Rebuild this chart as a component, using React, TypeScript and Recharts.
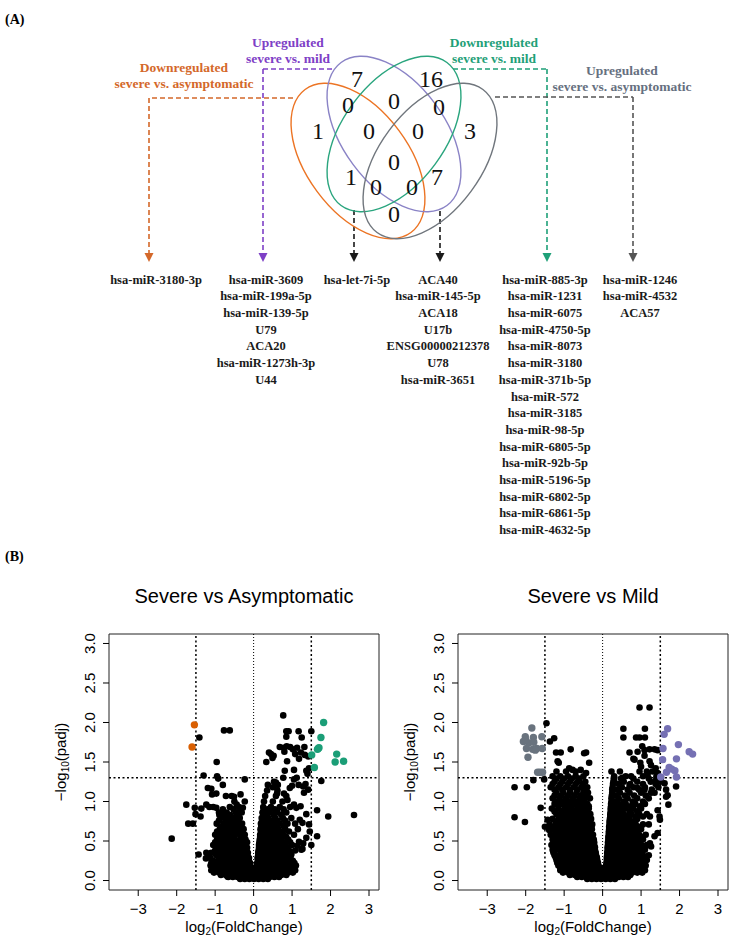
import React from 'react';
import { ScatterChart, Scatter, XAxis, YAxis, ReferenceLine, ReferenceArea } from 'recharts';

const SERIF = '"Liberation Serif", "Times New Roman", serif';
const SANS = '"Liberation Sans", Arial, Helvetica, sans-serif';

// ---------------- Venn data ----------------
const setTitles: string[][] = [
  ['Downregulated', 'severe vs. asymptomatic'],
  ['Upregulated', 'severe vs. mild'],
  ['Downregulated', 'severe vs. mild'],
  ['Upregulated', 'severe vs. asymptomatic'],
];
// region counts (purple only, green only, O∩P, P∩G, G∩Gy, orange only, O∩P∩G, P∩G∩Gy, gray only, all, O∩G, P∩Gy, O∩G∩Gy, O∩P∩Gy, O∩Gy)
const regionCounts = [7, 16, 0, 0, 0, 1, 0, 0, 3, 0, 1, 7, 0, 0, 0];

const genesDownAsym = ['hsa-miR-3180-3p'];
const genesUpMild = ['hsa-miR-3609', 'hsa-miR-199a-5p', 'hsa-miR-139-5p', 'U79', 'ACA20', 'hsa-miR-1273h-3p', 'U44'];
const genesDownAsymMild = ['hsa-let-7i-5p'];
const genesUpMildAsym = ['ACA40', 'hsa-miR-145-5p', 'ACA18', 'U17b', 'ENSG00000212378', 'U78', 'hsa-miR-3651'];
const genesDownMild = ['hsa-miR-885-3p', 'hsa-miR-1231', 'hsa-miR-6075', 'hsa-miR-4750-5p', 'hsa-miR-8073', 'hsa-miR-3180', 'hsa-miR-371b-5p', 'hsa-miR-572', 'hsa-miR-3185', 'hsa-miR-98-5p', 'hsa-miR-6805-5p', 'hsa-miR-92b-5p', 'hsa-miR-5196-5p', 'hsa-miR-6802-5p', 'hsa-miR-6861-5p', 'hsa-miR-4632-5p'];
const genesUpAsym = ['hsa-miR-1246', 'hsa-miR-4532', 'ACA57'];

// ---------------- Volcano data: Severe vs Asymptomatic ----------------
const asymDown: [number, number][] = [[-1.54, 1.97], [-1.60, 1.69]];
const asymUp: [number, number][] = [
  [1.82, 2.0], [1.75, 1.81], [1.70, 1.68], [1.66, 1.66], [1.51, 1.59], [2.16, 1.60],
  [2.12, 1.50], [2.34, 1.51], [1.58, 1.43], [1.68, 1.67],
];
const asymScatter: [number, number][] = [
  [0.77, 2.09], [-0.77, 1.90], [-0.62, 1.90], [-1.41, 1.81],
  [0.85, 1.89], [0.91, 1.89], [1.17, 1.89], [1.50, 1.89], [0.85, 1.82], [1.25, 1.81],
  [0.68, 1.69], [0.78, 1.68], [0.86, 1.70], [0.95, 1.69], [1.02, 1.66], [0.80, 1.63],
  [0.40, 1.62], [0.52, 1.58], [0.33, 1.50], [0.49, 1.55], [0.45, 1.60],
  [0.87, 1.51], [1.08, 1.60], [1.18, 1.54], [1.33, 1.59], [1.32, 1.69], [1.42, 1.57], [1.23, 1.62], [1.13, 1.68],
  [0.81, 1.39], [1.05, 1.40], [1.37, 1.39], [1.44, 1.42], [1.40, 1.35],
  [0.77, 1.30], [0.63, 1.21], [0.50, 1.18], [0.37, 1.21], [0.58, 1.24],
  [0.94, 1.17], [1.00, 1.20], [1.17, 1.21], [1.29, 1.19], [1.35, 1.22], [1.42, 1.15], [1.31, 1.11], [1.12, 1.30], [1.05, 1.28],
  [1.76, 1.26],
  [-0.96, 1.50], [-1.30, 1.33], [-0.95, 1.32], [-0.92, 1.29], [-0.23, 1.28], [-0.80, 1.21], [-1.19, 1.17], [-1.08, 1.09],
  [-1.75, 0.96], [-2.13, 0.53], [-1.70, 0.72], [-1.58, 0.72], [-1.53, 0.92], [-1.51, 0.84],
  [-1.36, 0.91], [-1.23, 0.96], [-1.15, 0.93], [-1.38, 0.81],
  [-0.57, 1.07], [-0.34, 1.09], [-0.23, 1.00], [-0.44, 0.96], [-0.28, 0.92], [-0.51, 1.06], [-0.97, 1.10], [-1.10, 1.16],
  [-0.97, 0.92], [-0.89, 0.83], [-0.80, 0.81],
  [-1.43, 0.33], [-1.23, 0.35], [-1.24, 0.28],
  [1.65, 0.89], [1.94, 0.81], [2.61, 0.83], [1.37, 0.84], [1.44, 0.71], [1.46, 0.62], [1.65, 0.56], [1.37, 0.54], [1.50, 0.45],
  [1.05, 0.96], [1.11, 0.92], [1.20, 0.77], [1.18, 0.49], [1.29, 0.47], [1.24, 0.39], [0.98, 0.33],
  [0.53, 1.25], [0.61, 1.10], [0.79, 1.10], [0.88, 1.02], [1.22, 0.94], [1.27, 0.73], [1.14, 0.44], [1.27, 0.40],
  [-0.68, 0.05],
];
const asymCoreRows: [number, number[]][] = [
  [0.02, [-0.35, -0.23, -0.11, 0.01, 0.13, 0.25, 0.37]],
  [0.045, [-0.66, -0.54, -0.42, -0.30, -0.18, -0.06, 0.06, 0.18, 0.30, 0.42, 0.54, 0.66]],
  [0.07, [-0.85, -0.72, -0.6, -0.48, -0.36, -0.24, -0.12, 0.0, 0.12, 0.24, 0.36, 0.48, 0.6, 0.72, 0.85]],
  [0.10, [-1.03, -0.9, -0.77, -0.64, -0.51, -0.38, -0.25, -0.13, -0.02, 0.02, 0.13, 0.25, 0.38, 0.51, 0.64, 0.77, 0.9, 1.02]],
  [0.13, [-1.1, -0.97, -0.84, -0.71, -0.58, -0.45, -0.32, -0.19, -0.07, 0.07, 0.19, 0.32, 0.45, 0.58, 0.71, 0.84, 0.97, 1.08]],
  [0.16, [-1.05, -0.92, -0.79, -0.66, -0.53, -0.4, -0.27, -0.14, -0.05, 0.05, 0.14, 0.27, 0.4, 0.53, 0.66, 0.79, 0.92, 1.04]],
  [0.19, [-1.12, -0.99, -0.86, -0.73, -0.6, -0.47, -0.34, -0.21, -0.09, 0.09, 0.21, 0.34, 0.47, 0.6, 0.73, 0.86, 0.99, 1.1]],
  [0.22, [-1.1, -0.97, -0.84, -0.71, -0.58, -0.45, -0.32, -0.19, -0.09, 0.09, 0.18, 0.3, 0.43, 0.56, 0.69, 0.82, 0.95, 1.06]],
  [0.25, [-1.05, -0.92, -0.79, -0.66, -0.53, -0.4, -0.27, -0.13, 0.11, 0.24, 0.37, 0.5, 0.63, 0.76, 0.89, 1.02]],
  [0.285, [-1.12, -0.9, -0.77, -0.64, -0.51, -0.38, -0.24, -0.12, 0.1, 0.18, 0.31, 0.44, 0.57, 0.7, 0.83, 0.96]],
  [0.32, [-1.18, -0.97, -0.84, -0.71, -0.58, -0.45, -0.32, -0.16, 0.12, 0.25, 0.38, 0.51, 0.64, 0.77, 0.9]],
  [0.35, [-1.1, -0.92, -0.78, -0.65, -0.52, -0.39, -0.25, -0.15, 0.12, 0.2, 0.32, 0.45, 0.58, 0.71, 0.84]],
  [0.38, [-1.0, -0.87, -0.74, -0.61, -0.48, -0.35, -0.19, 0.13, 0.26, 0.39, 0.52, 0.65, 0.78, 0.92, 1.08]],
  [0.415, [-0.95, -0.8, -0.67, -0.54, -0.4, -0.26, -0.17, 0.14, 0.22, 0.35, 0.48, 0.6, 0.73, 0.88]],
  [0.45, [-1.05, -0.9, -0.76, -0.6, -0.45, -0.32, -0.2, 0.14, 0.28, 0.41, 0.54, 0.67, 0.82, 1.0]],
  [0.485, [-1.0, -0.84, -0.68, -0.52, -0.38, -0.25, -0.17, 0.15, 0.24, 0.37, 0.5, 0.63, 0.78, 0.95]],
  [0.52, [-0.95, -0.8, -0.63, -0.48, -0.34, -0.21, 0.16, 0.3, 0.43, 0.57, 0.72, 0.9]],
  [0.55, [-0.9, -0.72, -0.55, -0.28, 0.17, 0.25, 0.38, 0.52, 0.68, 0.85]],
  [0.58, [-1.0, -0.82, -0.66, -0.5, -0.36, -0.23, 0.17, 0.31, 0.45, 0.6, 0.78, 1.05]],
  [0.62, [-0.95, -0.78, -0.6, -0.45, -0.3, 0.19, 0.27, 0.4, 0.56, 0.72, 0.92]],
  [0.65, [-0.88, -0.72, -0.56, -0.41, -0.26, 0.18, 0.33, 0.48, 0.64, 0.82, 1.15]],
  [0.69, [-0.82, -0.65, -0.5, -0.35, 0.2, 0.28, 0.44, 0.6, 0.78]],
  [0.72, [-0.96, -0.77, -0.6, -0.44, -0.3, 0.19, 0.35, 0.51, 0.68, 0.88, 1.08]],
  [0.76, [-0.9, -0.72, -0.55, -0.4, 0.22, 0.3, 0.46, 0.62, 0.82]],
  [0.79, [-0.85, -0.66, -0.5, -0.36, 0.21, 0.38, 0.56, 0.76, 0.98]],
  [0.83, [-0.78, -0.6, -0.4, 0.25, 0.33, 0.52, 0.72]],
  [0.86, [-0.9, -0.7, -0.46, -0.31, 0.23, 0.42, 0.62, 0.85]],
  [0.9, [-0.8, -0.52, -0.34, 0.26, 0.36, 0.55, 0.78]],
  [0.93, [-1.05, -0.62, -0.38, 0.25, 0.45, 0.68, 0.95]],
  [1.0, [-0.5, 0.27, 0.5, 0.75]],
  [1.07, [-0.72, 0.3, 0.58, 0.85]],
  [1.14, [0.35, 0.62]],
];

// ---------------- Volcano data: Severe vs Mild ----------------
const mildDown: [number, number][] = [
  [-1.84, 1.93], [-2.01, 1.82], [-1.80, 1.81], [-1.58, 1.82], [-2.06, 1.76], [-1.92, 1.74],
  [-1.79, 1.75], [-1.98, 1.67], [-1.82, 1.66], [-1.71, 1.67], [-1.57, 1.67], [-1.94, 1.56],
  [-1.69, 1.37], [-1.63, 1.37], [-1.56, 1.37], [-2.0, 1.78], [-1.75, 1.65],
];
const mildUp: [number, number][] = [
  [1.69, 1.92], [1.60, 1.85], [1.97, 1.72], [1.57, 1.67], [2.25, 1.63], [2.34, 1.60],
  [1.56, 1.53], [1.92, 1.54], [1.73, 1.43], [1.66, 1.37], [1.80, 1.41], [1.88, 1.39],
  [1.92, 1.31], [1.51, 1.31],
];
const mildScatter: [number, number][] = [
  [0.96, 2.19], [1.22, 2.19], [-1.46, 1.99], [-1.26, 1.80], [-1.37, 1.76],
  [-0.83, 1.66], [-1.09, 1.62], [-0.43, 1.62], [-1.21, 1.62], [-1.14, 1.49],
  [0.54, 1.92], [1.10, 1.92], [0.54, 1.81], [0.87, 1.81], [0.96, 1.81], [1.10, 1.81],
  [0.70, 1.62], [0.91, 1.63], [1.09, 1.65], [1.22, 1.66], [1.35, 1.66], [1.43, 1.65], [1.03, 1.70],
  [1.09, 1.58], [0.80, 1.54], [0.98, 1.49], [1.22, 1.51], [1.26, 1.46], [1.38, 1.42], [1.43, 1.36],
  [-2.29, 1.18], [-1.97, 1.18], [-2.29, 0.80], [-2.02, 0.74], [-1.80, 1.27], [-1.52, 1.28], [-1.61, 0.92],
  [-1.17, 1.51], [-0.87, 1.42], [-0.78, 1.40], [-0.48, 1.61], [-0.35, 1.49], [-0.57, 1.40], [-0.43, 1.36],
  [0.83, 1.53], [1.0, 1.44], [0.96, 1.38], [1.17, 1.34], [1.30, 1.38], [1.39, 1.27], [1.52, 1.30],
  [1.61, 1.23], [1.65, 1.15], [1.65, 1.06], [1.71, 0.96], [1.91, 1.19], [1.69, 1.08],
  [0.23, 1.38], [0.30, 1.27], [0.52, 1.30], [0.74, 1.32], [0.70, 1.21], [0.91, 1.17], [1.09, 1.15], [1.26, 1.11],
  [1.43, 0.89], [1.48, 0.81], [1.43, 0.60], [1.35, 0.56], [1.26, 0.43], [1.23, 0.81], [1.49, 0.77], [1.23, 0.47],
  [-1.43, 0.77], [-1.39, 0.64], [-1.26, 0.37], [-1.17, 0.30], [-0.91, 0.14], [-1.30, 0.56], [-1.50, 0.68],
];
const mildCoreRows: [number, number[]][] = [
  [0.02, [-0.4, -0.28, -0.16, -0.04, 0.08, 0.2, 0.32]],
  [0.045, [-0.66, -0.54, -0.42, -0.30, -0.18, -0.06, 0.06, 0.18, 0.30, 0.42, 0.54, 0.66]],
  [0.07, [-0.85, -0.72, -0.6, -0.48, -0.36, -0.24, -0.12, 0.0, 0.12, 0.24, 0.36, 0.48, 0.6, 0.72]],
  [0.10, [-1.03, -0.9, -0.77, -0.64, -0.51, -0.38, -0.25, -0.13, -0.02, 0.02, 0.13, 0.25, 0.38, 0.51, 0.64, 0.77, 0.9, 1.03]],
  [0.13, [-1.1, -0.97, -0.84, -0.71, -0.58, -0.45, -0.32, -0.19, -0.07, 0.07, 0.19, 0.32, 0.45, 0.58, 0.71, 0.84, 0.97, 1.1]],
  [0.16, [-1.1, -0.96, -0.83, -0.7, -0.57, -0.44, -0.31, -0.18, -0.05, 0.05, 0.15, 0.28, 0.41, 0.54, 0.67, 0.8, 0.93, 1.06]],
  [0.19, [-1.15, -1.02, -0.89, -0.76, -0.63, -0.5, -0.37, -0.24, -0.11, 0.09, 0.21, 0.34, 0.47, 0.6, 0.73, 0.86, 0.99, 1.12]],
  [0.225, [-1.18, -1.05, -0.92, -0.79, -0.66, -0.53, -0.4, -0.27, -0.12, 0.1, 0.18, 0.3, 0.43, 0.56, 0.69, 0.82, 0.95, 1.08]],
  [0.26, [-1.2, -1.07, -0.94, -0.81, -0.68, -0.55, -0.42, -0.29, -0.14, 0.11, 0.24, 0.37, 0.5, 0.63, 0.76, 0.89, 1.02, 1.15]],
  [0.29, [-1.22, -1.09, -0.96, -0.83, -0.7, -0.57, -0.44, -0.3, -0.15, 0.11, 0.19, 0.31, 0.44, 0.57, 0.7, 0.83, 0.96, 1.1]],
  [0.32, [-1.25, -1.12, -0.99, -0.86, -0.73, -0.6, -0.47, -0.34, -0.17, 0.12, 0.25, 0.38, 0.51, 0.64, 0.77, 0.9, 1.05, 1.2]],
  [0.355, [-1.28, -1.08, -0.95, -0.82, -0.69, -0.56, -0.43, -0.28, -0.18, 0.12, 0.2, 0.33, 0.46, 0.6, 0.73, 0.87, 1.02]],
  [0.39, [-1.3, -1.15, -1.02, -0.89, -0.76, -0.63, -0.5, -0.37, -0.2, 0.13, 0.27, 0.4, 0.53, 0.66, 0.8, 0.95, 1.1]],
  [0.42, [-1.25, -1.1, -0.97, -0.84, -0.71, -0.58, -0.45, -0.3, -0.2, 0.13, 0.21, 0.35, 0.48, 0.62, 0.77, 0.92, 1.08]],
  [0.45, [-1.33, -1.18, -1.05, -0.92, -0.79, -0.66, -0.53, -0.4, -0.22, 0.14, 0.28, 0.41, 0.55, 0.7, 0.85, 1.0, 1.15]],
  [0.485, [-1.25, -1.1, -0.98, -0.85, -0.72, -0.59, -0.46, -0.31, -0.22, 0.14, 0.22, 0.36, 0.5, 0.66, 0.82, 0.98]],
  [0.52, [-1.3, -1.16, -1.02, -0.88, -0.75, -0.62, -0.49, -0.36, -0.23, 0.15, 0.29, 0.43, 0.58, 0.74, 0.9, 1.05]],
  [0.55, [-1.28, -1.13, -0.99, -0.85, -0.71, -0.57, -0.44, -0.31, 0.15, 0.23, 0.38, 0.52, 0.69, 0.86, 1.03]],
  [0.58, [-1.35, -1.2, -1.06, -0.92, -0.78, -0.64, -0.5, -0.38, -0.25, 0.16, 0.3, 0.45, 0.6, 0.78, 0.95, 1.12]],
  [0.615, [-1.22, -1.07, -0.92, -0.77, -0.63, -0.5, -0.35, 0.16, 0.25, 0.4, 0.56, 0.73, 0.9]],
  [0.65, [-1.3, -1.15, -1.0, -0.85, -0.7, -0.57, -0.43, -0.28, 0.17, 0.32, 0.48, 0.64, 0.82, 1.0]],
  [0.68, [-1.3, -1.15, -1.0, -0.85, -0.7, -0.56, -0.42, -0.3, 0.17, 0.26, 0.42, 0.6, 0.77, 0.95]],
  [0.71, [-1.38, -1.22, -1.08, -0.93, -0.78, -0.63, -0.5, -0.35, -0.27, 0.18, 0.33, 0.5, 0.68, 0.86, 1.05, 1.2]],
  [0.745, [-1.22, -1.06, -0.9, -0.75, -0.6, -0.46, -0.34, 0.18, 0.27, 0.44, 0.62, 0.8]],
  [0.78, [-1.3, -1.14, -0.98, -0.83, -0.68, -0.53, -0.4, -0.3, 0.19, 0.34, 0.52, 0.7, 0.9]],
  [0.81, [-1.12, -0.97, -0.82, -0.67, -0.52, -0.38, 0.2, 0.28, 0.46, 0.65, 0.85, 1.05]],
  [0.84, [-1.2, -1.05, -0.9, -0.75, -0.6, -0.45, -0.32, 0.2, 0.36, 0.55, 0.75, 0.95, 1.15]],
  [0.875, [-1.25, -1.06, -0.9, -0.74, -0.58, -0.43, 0.21, 0.3, 0.48, 0.7, 0.9]],
  [0.91, [-1.32, -1.15, -0.98, -0.82, -0.66, -0.5, -0.36, 0.21, 0.38, 0.58, 0.8, 1.0]],
  [0.94, [-1.15, -0.98, -0.81, -0.64, -0.48, -0.36, 0.22, 0.31, 0.5, 0.72, 0.97]],
  [0.97, [-1.25, -1.08, -0.9, -0.72, -0.56, -0.4, 0.22, 0.4, 0.6, 0.85, 1.1]],
  [1.0, [-1.2, -1.02, -0.85, -0.68, -0.52, 0.23, 0.33, 0.54, 0.78, 1.05]],
  [1.04, [-1.3, -1.12, -0.95, -0.78, -0.6, -0.45, -0.33, 0.23, 0.42, 0.65, 0.9, 1.2]],
  [1.075, [-1.25, -1.08, -0.9, -0.73, -0.56, -0.42, 0.24, 0.35, 0.58, 0.82, 1.12]],
  [1.11, [-1.2, -1.02, -0.85, -0.68, -0.5, -0.38, 0.25, 0.45, 0.7, 1.0, 1.35]],
  [1.15, [-1.25, -1.05, -0.85, -0.65, -0.47, 0.25, 0.38, 0.65, 0.95, 1.28]],
  [1.18, [-1.35, -1.15, -0.95, -0.75, -0.55, -0.4, 0.26, 0.5, 0.8, 1.1, 1.45]],
  [1.22, [-1.3, -1.1, -0.9, -0.7, -0.52, 0.27, 0.42, 0.72, 1.05, 1.38]],
  [1.25, [-1.25, -1.05, -0.85, -0.65, -0.45, 0.28, 0.55, 0.9, 1.25, 1.5]],
  [1.29, [-1.2, -1.0, -0.8, -0.6, 0.29, 0.48, 0.8, 1.2]],
  [1.32, [-1.3, -1.1, -0.9, -0.7, -0.5, 0.3, 0.6, 1.05, 1.4]],
  [1.38, [-1.2, -0.95, -0.7, 0.45, 1.15]],
];

const xTicks = [-3, -2, -1, 0, 1, 2, 3];
const yTicks = [0, 0.5, 1, 1.5, 2, 2.5, 3];

// ---------------- helpers ----------------
const toPts = (arr: [number, number][]) => arr.map(([x, y]) => ({ x, y }));
const rowsToPts = (rows: [number, number[]][]) => rows.flatMap(([y, xs]) => xs.map((x) => ({ x, y })));

// ---------------- Venn layout (pixel space) ----------------
const ellipseLayout = [
  { cx: 358, cy: 161, rot: 53.5, color: '#EC7424' },
  { cx: 394, cy: 134, rot: 53.5, color: '#8A83C6' },
  { cx: 394, cy: 134, rot: -53.5, color: '#2AA57E' },
  { cx: 430, cy: 161, rot: -53.5, color: '#70767D' },
];
const ELL_A = 89;
const ELL_B = 51;
const regionPos = [
  [357, 79], [431, 79], [348, 105], [394, 101], [439, 107], [318, 131], [369, 131], [418, 131],
  [470, 131], [394, 162], [351, 177], [437, 177], [376, 187], [412, 187], [394, 214],
];
const titleLayout = [
  { cx: 184, cy: 68, color: '#D4682A' },
  { cx: 288, cy: 43, color: '#7E40C6' },
  { cx: 494, cy: 43, color: '#1FA078' },
  { cx: 622, cy: 71, color: '#667080' },
];
const connectors = [
  { color: '#D4682A', pts: [[293, 98], [149, 98], [149, 254]] },
  { color: '#7E40C6', pts: [[332, 69], [263, 69], [263, 254]] },
  { color: '#1a1a1a', pts: [[354, 210], [354, 254]] },
  { color: '#1a1a1a', pts: [[440, 211], [440, 254]] },
  { color: '#1FA078', pts: [[453, 69], [547, 69], [547, 254]] },
  { color: '#555555', pts: [[495, 97], [633, 97], [633, 254]] },
];
const listLayout = [
  { genes: genesDownAsym, cx: 156 },
  { genes: genesUpMild, cx: 266 },
  { genes: genesDownAsymMild, cx: 357 },
  { genes: genesUpMildAsym, cx: 438 },
  { genes: genesDownMild, cx: 545 },
  { genes: genesUpAsym, cx: 640 },
];

function Venn() {
  const regionData = regionCounts.map((c, i) => ({ x: regionPos[i][0], y: regionPos[i][1], count: c }));
  const arrowData = connectors.map((c) => ({ x: c.pts[c.pts.length - 1][0], y: 262, color: c.color }));
  return (
    <div style={{ position: 'absolute', left: 0, top: 0, width: 740, height: 270 }}>
      <ScatterChart width={740} height={270} margin={{ top: 0, right: 0, bottom: 0, left: 0 }}>
        <XAxis type="number" dataKey="x" domain={[0, 740]} hide />
        <YAxis type="number" dataKey="y" domain={[0, 270]} reversed hide />
        {connectors.flatMap((c, ci) =>
          c.pts.slice(1).map((p, i) => (
            <ReferenceLine
              key={`c${ci}-${i}`}
              segment={[{ x: c.pts[i][0], y: c.pts[i][1] }, { x: p[0], y: p[1] }]}
              stroke={c.color}
              strokeWidth={1.6}
              strokeDasharray="5 3"
              ifOverflow="visible"
            />
          ))
        )}
        {ellipseLayout.map((e, i) => (
          <Scatter
            key={`e${i}`}
            data={[{ x: e.cx, y: e.cy }]}
            isAnimationActive={false}
            shape={(p: any) => (
              <ellipse
                cx={p.cx}
                cy={p.cy}
                rx={ELL_A}
                ry={ELL_B}
                transform={`rotate(${e.rot} ${p.cx} ${p.cy})`}
                fill="none"
                stroke={e.color}
                strokeWidth={1.4}
              />
            )}
          />
        ))}
        <Scatter
          data={regionData}
          isAnimationActive={false}
          shape={(p: any) => (
            <text x={p.cx} y={p.cy} textAnchor="middle" dominantBaseline="central" fontSize={24} fontFamily={SERIF} fill="#111">
              {p.payload.count}
            </text>
          )}
        />
        <Scatter
          data={arrowData}
          isAnimationActive={false}
          shape={(p: any) => (
            <path d={`M${p.cx - 4.5},${p.cy - 9} L${p.cx + 4.5},${p.cy - 9} L${p.cx},${p.cy} Z`} fill={p.payload.color} />
          )}
        />
      </ScatterChart>
    </div>
  );
}

function YTick(props: any) {
  const { x, y, payload } = props;
  return (
    <text
      transform={`translate(${x - 12},${y}) rotate(-90)`}
      textAnchor="middle"
      dominantBaseline="central"
      fontSize={15}
      fontFamily={SANS}
      fill="#000"
    >
      {Number(payload.value).toFixed(1)}
    </text>
  );
}

const fmtX = (v: number) => (v < 0 ? '\u2212' + Math.abs(v) : String(v));

const dot = (color: string, r: number) => (p: any) => <circle cx={p.cx} cy={p.cy} r={r} fill={color} />;

function Volcano(props: {
  left: number;
  title: string;
  black: { x: number; y: number }[];
  down: { x: number; y: number }[];
  up: { x: number; y: number }[];
  downColor: string;
  upColor: string;
}) {
  const W = 361;
  const H = 390;
  const mL = 39, yW = 40, mR = 12, mT = 74;
  const plotCx = mL + yW + (W - mR - mL - yW) / 2;
  return (
    <div style={{ position: 'absolute', left: props.left, top: 560, width: W, height: H }}>
      <ScatterChart width={W} height={H} margin={{ top: mT, right: mR, bottom: 30, left: mL }}>
        <XAxis
          type="number"
          dataKey="x"
          domain={[-3.76, 3.26]}
          ticks={xTicks}
          interval={0}
          allowDataOverflow
          axisLine={false}
          tickSize={6}
          tickMargin={7}
          height={30}
          tickLine={{ stroke: '#000' }}
          tick={{ fontSize: 15, fill: '#000', fontFamily: SANS }}
          tickFormatter={fmtX}
        />
        <YAxis
          type="number"
          dataKey="y"
          domain={[-0.12, 3.12]}
          ticks={yTicks}
          interval={0}
          allowDataOverflow
          axisLine={false}
          width={yW}
          tickSize={6}
          tickMargin={2}
          tickLine={{ stroke: '#000' }}
          tick={<YTick />}
        />
        <ReferenceLine x={-1.5} stroke="#000" strokeWidth={1.5} strokeDasharray="2 2.5" />
        <ReferenceLine x={1.5} stroke="#000" strokeWidth={1.5} strokeDasharray="2 2.5" />
        <ReferenceLine x={0} stroke="#000" strokeWidth={1} strokeDasharray="1 2" />
        <ReferenceLine y={1.3} stroke="#000" strokeWidth={1.5} strokeDasharray="2 2.5" />
        <Scatter data={props.black} isAnimationActive={false} shape={dot('#000', 3.3)} />
        <Scatter data={props.down} isAnimationActive={false} shape={dot(props.downColor, 3.7)} />
        <Scatter data={props.up} isAnimationActive={false} shape={dot(props.upColor, 3.7)} />
        <ReferenceArea x1={-3.76} x2={3.26} y1={-0.12} y2={3.12} fill="none" stroke="#222" strokeWidth={1} ifOverflow="visible" />
      </ScatterChart>
      <div
        style={{
          position: 'absolute', left: plotCx, top: 36, transform: 'translate(-50%,-50%)',
          fontFamily: SANS, fontSize: 20, lineHeight: '20px', whiteSpace: 'nowrap', color: '#000',
        }}
      >
        {props.title}
      </div>
      <div
        style={{
          position: 'absolute', left: plotCx, top: 369, transform: 'translate(-50%,-50%)',
          fontFamily: SANS, fontSize: 15, lineHeight: '18px', whiteSpace: 'nowrap', color: '#000',
        }}
      >
        log<sub style={{ fontSize: 10, verticalAlign: '-3px' }}>2</sub>(FoldChange)
      </div>
      <div
        style={{
          position: 'absolute', left: 33, top: 202, transform: 'translate(-50%,-50%) rotate(-90deg)',
          fontFamily: SANS, fontSize: 15, lineHeight: '18px', whiteSpace: 'nowrap', color: '#000',
        }}
      >
        {'\u2212'}log<sub style={{ fontSize: 10, verticalAlign: '-3px' }}>10</sub>(padj)
      </div>
    </div>
  );
}

export default function App() {
  const asymBlack = [...rowsToPts(asymCoreRows), ...toPts(asymScatter)];
  const mildBlack = [...rowsToPts(mildCoreRows), ...toPts(mildScatter)];
  return (
    <div style={{ position: 'absolute', left: 0, top: 0, width: 740, height: 950, background: '#fff', overflow: 'hidden' }}>
      <div style={{ position: 'absolute', left: 5, top: 11, fontFamily: SERIF, fontWeight: 'bold', fontSize: 14, lineHeight: '18px' }}>(A)</div>
      <div style={{ position: 'absolute', left: 5, top: 548, fontFamily: SERIF, fontWeight: 'bold', fontSize: 14, lineHeight: '18px' }}>(B)</div>
      <Venn />
      {setTitles.map((t, i) => (
        <div
          key={`t${i}`}
          style={{
            position: 'absolute', left: titleLayout[i].cx, top: titleLayout[i].cy - 8.5, transform: 'translateX(-50%)',
            fontFamily: SERIF, fontWeight: 'bold', fontSize: 13.5, lineHeight: '16.5px', textAlign: 'center',
            whiteSpace: 'nowrap', color: titleLayout[i].color,
          }}
        >
          {t.map((l, j) => (
            <div key={j}>{l}</div>
          ))}
        </div>
      ))}
      {listLayout.map((g, i) => (
        <div
          key={`g${i}`}
          style={{
            position: 'absolute', left: g.cx, top: 280 - 8.35, transform: 'translateX(-50%)',
            fontFamily: SERIF, fontWeight: 'bold', fontSize: 12.5, lineHeight: '16.7px', textAlign: 'center',
            whiteSpace: 'nowrap', color: '#1a1a1a',
          }}
        >
          {g.genes.map((n, j) => (
            <div key={j}>{n}</div>
          ))}
        </div>
      ))}
      <Volcano
        left={30}
        title="Severe vs Asymptomatic"
        black={asymBlack}
        down={toPts(asymDown)}
        up={toPts(asymUp)}
        downColor="#D95F02"
        upColor="#1B9E77"
      />
      <Volcano
        left={379}
        title="Severe vs Mild"
        black={mildBlack}
        down={toPts(mildDown)}
        up={toPts(mildUp)}
        downColor="#69737E"
        upColor="#7570B3"
      />
    </div>
  );
}
